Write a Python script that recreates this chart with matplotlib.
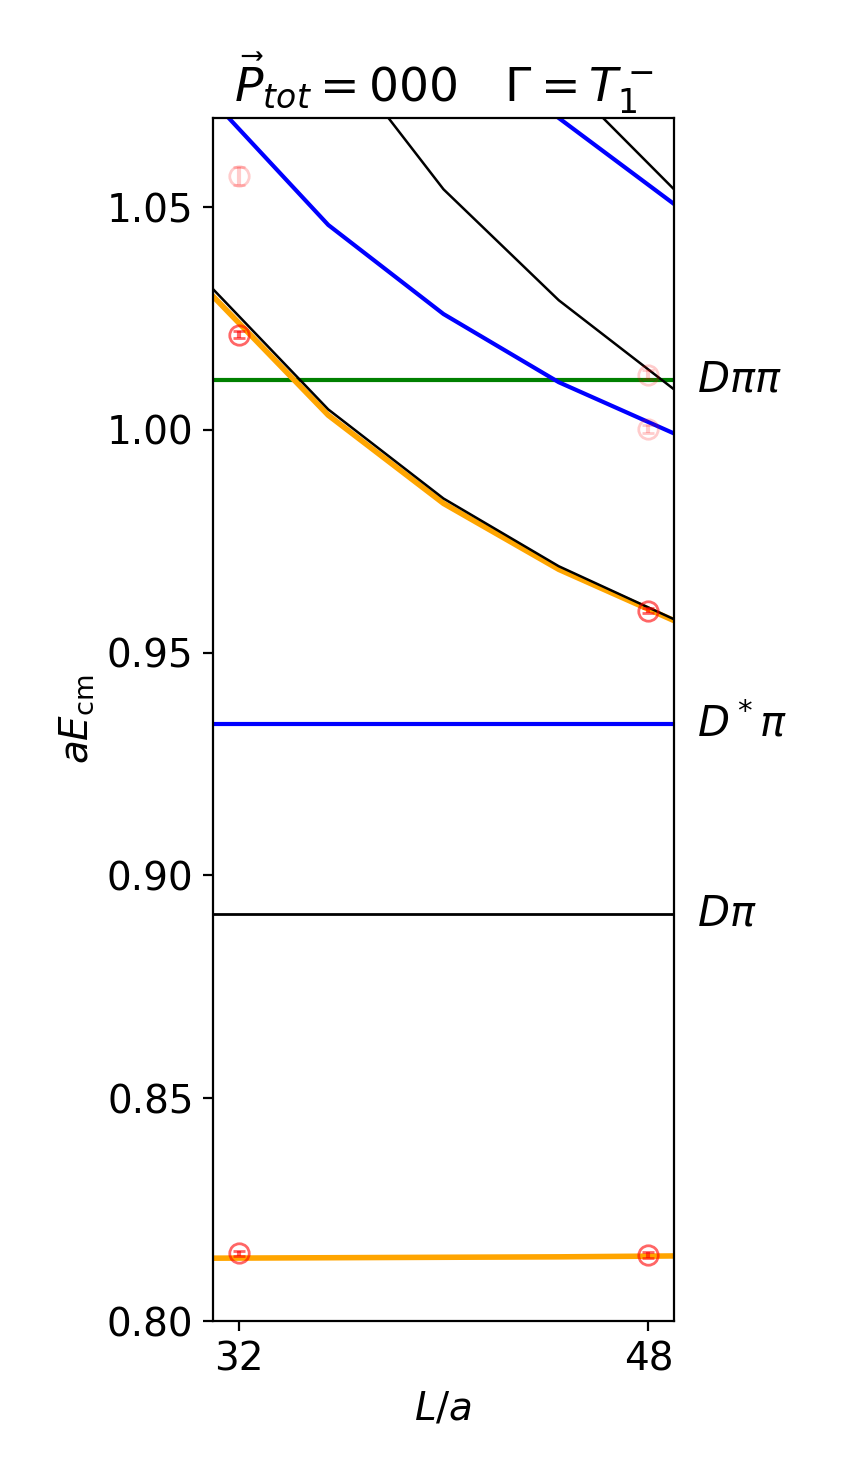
import numpy as np
import matplotlib.pyplot as plt

L_grid = [31, 35.5, 40, 44.5, 49]
black_low = [1.0316, 1.0046, 0.9846, 0.9694, 0.9575]
orange_low = [1.0300, 1.0033, 0.9835, 0.9687, 0.9572]
blue_mid = [1.0738, 1.0460, 1.0260, 1.0107, 0.9992]
black_mid = [1.115, 1.0875, 1.0540, 1.0291, 1.0091]
blue_up = [1.13, 1.11, 1.09, 1.070, 1.0507]
black_up = [1.15, 1.13, 1.11, 1.080, 1.054]
orange_gs = [0.8141, 0.8142, 0.8143, 0.8144, 0.8146]

thresholds = [(1.0113, 'green', r'$D\pi\pi$'),
              (0.9339, 'blue', r'$D^*\pi$'),
              (0.8914, 'black', r'$D\pi$')]

pts_L = [32, 32, 48, 48]
pts_E = [1.0214, 0.8152, 0.9594, 0.8148]
pts_err = [0.0008, 0.0006, 0.0006, 0.0006]
pale_L = [32, 48, 48]
pale_E = [1.057, 1.0124, 1.0002]
pale_err = [0.002, 0.001, 0.001]

plt.rcParams['font.size'] = 14
fig = plt.figure(figsize=(4.235, 7.41), dpi=200)
ax = fig.add_axes([213/847, 1 - 1321/1482, 461/847, 1203/1482])

for E, c, lab in thresholds:
    ax.axhline(E, color=c, lw=1.5 if c != 'black' else 1.0)
    ax.text(49.9, E, lab, va='center', ha='left', fontsize=15)

ax.plot(L_grid, orange_low, color='orange', lw=2)
ax.plot(L_grid, black_low, color='black', lw=0.9)
ax.plot(L_grid, blue_mid, color='blue', lw=1.5)
ax.plot(L_grid, black_mid, color='black', lw=0.9)
ax.plot(L_grid, blue_up, color='blue', lw=1.5)
ax.plot(L_grid, black_up, color='black', lw=0.9)
ax.plot(L_grid, orange_gs, color='orange', lw=2)

ax.errorbar(pts_L, pts_E, yerr=pts_err, fmt='o', mfc='none', color='red',
            alpha=0.6, ms=7, capsize=2)
ax.errorbar(pale_L, pale_E, yerr=pale_err, fmt='o', mfc='none', color='red',
            alpha=0.2, ms=7, capsize=2)

ax.set_xlim(31, 49)
ax.set_ylim(0.80, 1.07)
ax.set_xticks([32, 48])
ax.set_yticks([0.80, 0.85, 0.90, 0.95, 1.00, 1.05])
ax.set_xlabel(r'$L/a$')
ax.set_ylabel(r'$aE_{\rm cm}$')
ax.set_title(r'$\vec{P}_{tot} = 000 \quad \Gamma = T_1^-$', fontsize=17)

plt.savefig('out.png', dpi=200)
